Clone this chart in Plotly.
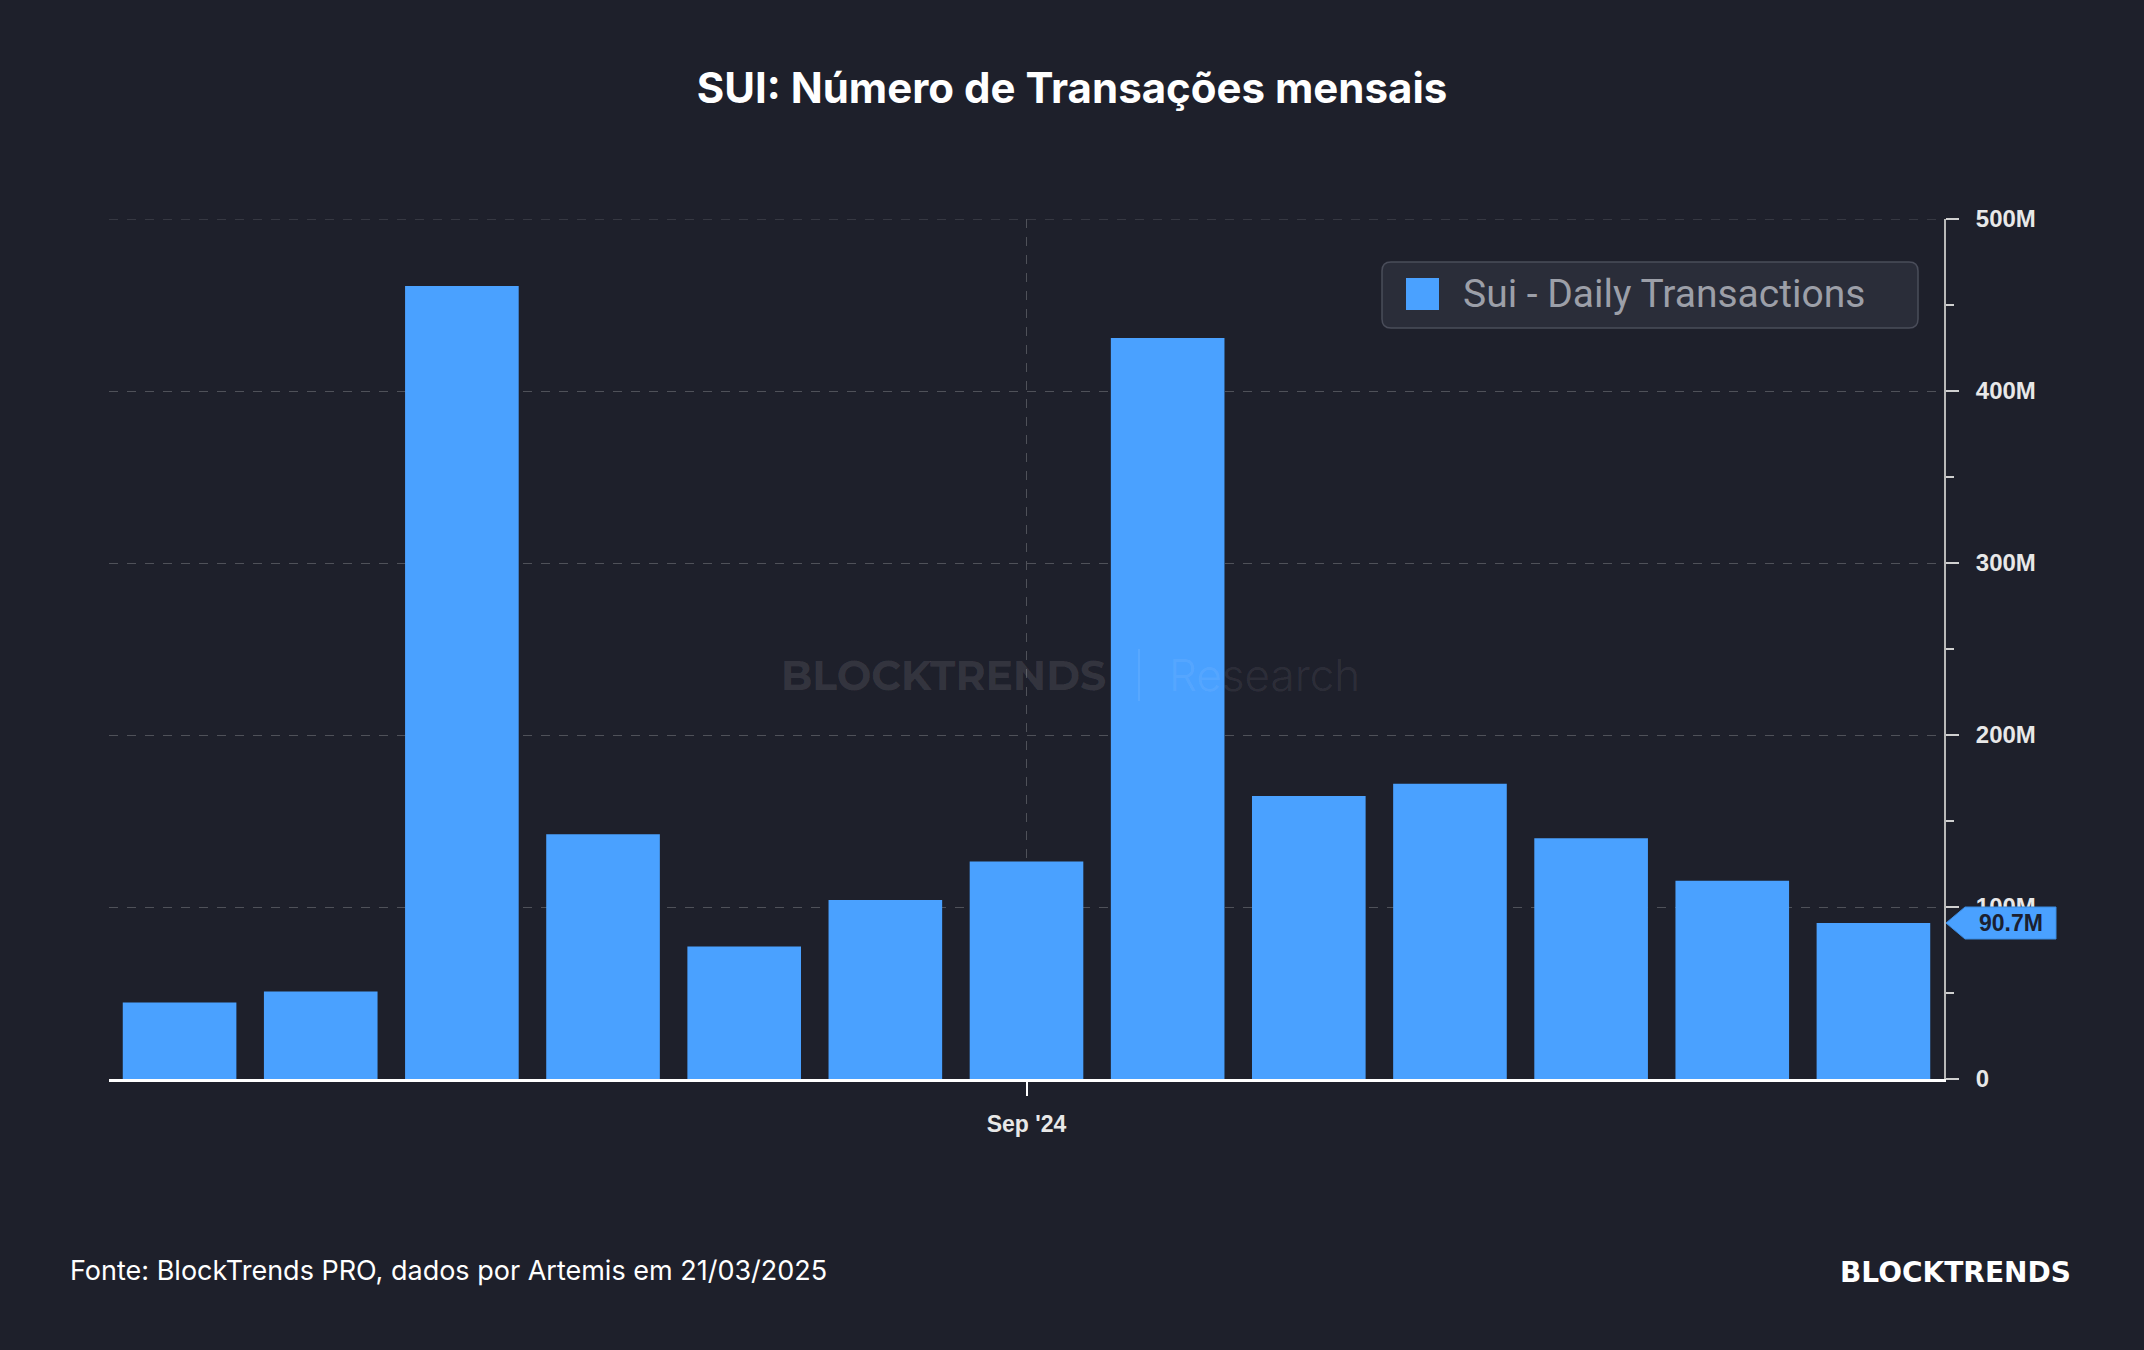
import plotly.graph_objects as go

# ---------------- data ----------------
months = ["Mar '24", "Apr '24", "May '24", "Jun '24", "Jul '24", "Aug '24", "Sep '24",
          "Oct '24", "Nov '24", "Dec '24", "Jan '25", "Feb '25", "Mar '25"]
transactions = [44.5e6, 50.9e6, 461e6, 142.3e6, 77.1e6, 104.1e6, 126.4e6,
                430.8e6, 164.5e6, 171.7e6, 139.9e6, 115.3e6, 90.7e6]
x_tick_vals = ["Sep '24"]
y_tick_vals = [0, 100e6, 200e6, 300e6, 400e6, 500e6]
y_tick_text = ["0", "100M", "200M", "300M", "400M", "500M"]
y_minor_vals = [50e6, 150e6, 250e6, 350e6, 450e6]
series_name = "Sui - Daily Transactions"
title_text = "SUI: Número de Transações mensais"
source_text = "Fonte: BlockTrends PRO, dados por Artemis em 21/03/2025"

# ---------------- style ----------------
W, H = 2144, 1350
ML, MR, MT, MB = 109, 200, 219, 271
PW, PH = W - ML - MR, H - MT - MB
BG = "#1e202b"
BAR = "#4aa1ff"
GRID = "rgba(255,255,255,0.22)"


def px_x(p):
    return (p - ML) / PW


def px_y(p):
    return (H - MB - p) / PH


def rounded_rect(x0, y0, x1, y1, r):
    rx, ry = r / PW, r / PH
    X0, X1 = px_x(x0), px_x(x1)
    Y0, Y1 = px_y(y0), px_y(y1)
    return (f"M {X0+rx},{Y0} L {X1-rx},{Y0} Q {X1},{Y0} {X1},{Y0-ry} "
            f"L {X1},{Y1+ry} Q {X1},{Y1} {X1-rx},{Y1} L {X0+rx},{Y1} "
            f"Q {X0},{Y1} {X0},{Y1+ry} L {X0},{Y0-ry} Q {X0},{Y0} {X0+rx},{Y0} Z")


fig = go.Figure()
fig.add_trace(go.Bar(x=months, y=transactions, name=series_name,
                     marker=dict(color=BAR, line=dict(width=0)), showlegend=False))

last_val = transactions[-1]

shapes = [
    # top gridline (at the range edge)
    dict(type="line", xref="paper", yref="y", x0=0, x1=1,
         y0=y_tick_vals[-1], y1=y_tick_vals[-1],
         line=dict(color=GRID, width=1, dash="dash"), layer="below"),
    # legend box
    dict(type="path", xref="paper", yref="paper",
         path=rounded_rect(1382, 262, 1918, 328, 9),
         fillcolor="#2a2d39", line=dict(color="#4a4d5a", width=1.5), layer="above"),
    dict(type="rect", xref="paper", yref="paper",
         x0=px_x(1406), x1=px_x(1439), y0=px_y(278), y1=px_y(310),
         fillcolor=BAR, line=dict(width=0), layer="above"),
    # watermark separator
    dict(type="line", xref="paper", yref="paper",
         x0=px_x(1139), x1=px_x(1139), y0=px_y(649), y1=px_y(701),
         line=dict(color="rgba(255,255,255,0.08)", width=2), layer="above"),
    # last value tag
    dict(type="path", xref="paper", yref="y", xsizemode="pixel", ysizemode="pixel",
         xanchor=1, yanchor=last_val,
         path="M 2,0 L 21,16 L 112,16 L 112,-16 L 21,-16 Z",
         fillcolor=BAR, line=dict(color="#3b8be0", width=1), layer="above"),
]

annotations = [
    dict(text=series_name, xref="paper", yref="paper", x=px_x(1461), y=px_y(294),
         xanchor="left", yanchor="middle", showarrow=False,
         font=dict(family="Roboto", size=39, color="#9c9fa8")),
    dict(text="<b>BLOCKTRENDS</b>", xref="paper", yref="paper", x=px_x(1108), y=px_y(675),
         xanchor="right", yanchor="middle", showarrow=False,
         font=dict(family="Montserrat, Open Sans", size=41, color="rgba(255,255,255,0.1)")),
    dict(text="Research", xref="paper", yref="paper", x=px_x(1167), y=px_y(675),
         xanchor="left", yanchor="middle", showarrow=False,
         font=dict(family="Inter", size=44, weight=300, color="rgba(255,255,255,0.08)")),
    dict(text=f"<b>{last_val/1e6:.1f}M</b>", xref="paper", yref="y", x=1, y=last_val,
         xanchor="center", yanchor="middle", xshift=67, showarrow=False,
         font=dict(family="Liberation Sans", size=23, color="#1b2030")),
    dict(text=source_text, xref="paper", yref="paper", x=px_x(68), y=px_y(1270),
         xanchor="left", yanchor="middle", showarrow=False,
         font=dict(family="Inter", size=27, color="#ffffff")),
    dict(text="<b>BLOCKTRENDS</b>", xref="paper", yref="paper", x=px_x(2073), y=px_y(1272),
         xanchor="right", yanchor="middle", showarrow=False,
         font=dict(family="DejaVu Sans", size=28, color="#ffffff")),
]

fig.update_layout(
    width=W, height=H,
    paper_bgcolor=BG, plot_bgcolor=BG,
    margin=dict(l=ML, r=MR, t=MT, b=MB),
    bargap=0.195,
    title=dict(text=f"<b>{title_text}</b>", x=0.5, xref="container", xanchor="center",
               y=1 - 88 / H, yanchor="middle",
               font=dict(family="Inter", size=42, color="#ffffff")),
    shapes=shapes,
    annotations=annotations,
    xaxis=dict(type="category", range=[-0.5, len(months) - 0.5],
               tickvals=x_tick_vals, ticktext=x_tick_vals,
               showgrid=True, gridcolor=GRID, griddash="dash", gridwidth=1,
               showline=True, linecolor="#ffffff", linewidth=3,
               ticks="outside", ticklen=14, tickwidth=2, tickcolor="#ffffff",
               tickfont=dict(family="Liberation Sans", size=23, color="#e8e8e8", weight="bold"),
               ticklabelstandoff=8,
               zeroline=False, fixedrange=True),
    yaxis=dict(side="right", range=[0, 500e6],
               tickvals=y_tick_vals, ticktext=y_tick_text,
               showgrid=True, gridcolor=GRID, griddash="dash", gridwidth=1,
               showline=True, linecolor="#b8b8b8", linewidth=2,
               ticks="outside", ticklen=13, tickwidth=2, tickcolor="#d0d0d0",
               minor=dict(tickvals=y_minor_vals, ticks="outside",
                          ticklen=8, tickwidth=2, tickcolor="#d0d0d0", showgrid=False),
               tickfont=dict(family="Liberation Sans", size=24, color="#e8e8e8", weight="bold"),
               ticklabelstandoff=12,
               zeroline=False, fixedrange=True),
)

fig.write_html("out.html")
